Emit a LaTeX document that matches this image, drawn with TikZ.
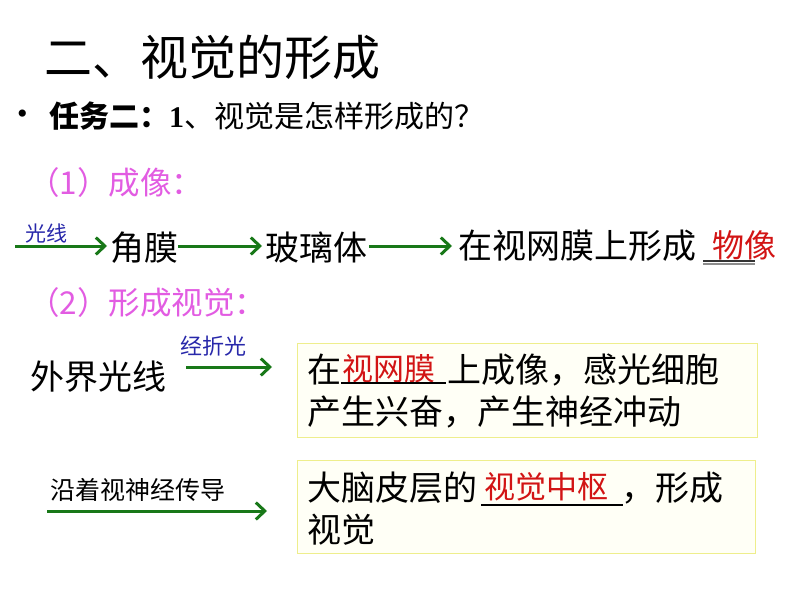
\documentclass[tikz,border=0pt]{standalone}
\usepackage{fontspec}
\setmainfont{Noto Sans CJK SC}
\newfontfamily\tnr{Liberation Serif}
\usetikzlibrary{arrows.meta}
\definecolor{arrowgreen}{RGB}{24,120,24}
\definecolor{labelblue}{RGB}{40,40,170}
\definecolor{pinkhead}{RGB}{226,92,226}
\definecolor{answerred}{RGB}{210,20,20}
\definecolor{boxline}{RGB}{238,238,140}
\definecolor{boxfill}{RGB}{255,255,246}
\begin{document}
\begin{tikzpicture}[x=1pt,y=-1pt,
  every node/.style={inner sep=0pt, anchor=west},
  arr/.style={draw=arrowgreen, line width=3pt, -{Straight Barb[length=9pt,width=17pt]}},
  lbl/.style={text=labelblue, font=\fontsize{21}{24}\selectfont},
  big/.style={font=\fontsize{34}{40}\selectfont},
  ans/.style={text=answerred, font=\fontsize{31}{36}\selectfont},
  head/.style={text=pinkhead, font=\fontsize{31.5}{36}\selectfont},
  frame/.style={draw=boxline, fill=boxfill, line width=1.2pt, anchor=north west, minimum width=#1, inner sep=0pt},
  uline/.style={draw=black, line width=1.6pt}]
\useasboundingbox (0,0) rectangle (794,596);

% title
\node[font=\fontsize{48}{52}\selectfont] (title) at (44,57) {二、视觉的形成};
% bullet line
\node[font=\fontsize{30}{30}\selectfont\tnr] (bul) at (17,117) {•};
\node[font=\fontsize{30}{36}\selectfont] (task) at (49,116) {\textbf{任务二：}{\tnr\bfseries 1}、视觉是怎样形成的？};

% (1)
\node[head] (h1) at (28,183) {（1）成像：};
\node[lbl] (gx) at (25,233) {光线};
\coordinate (s1) at (15,246);
\node[big] (jm) at (110,248) {角膜};
\node[big] (blt) at (265,248) {玻璃体};
\node[big] (zsw) at (458,246) {在视网膜上形成};
\node[ans, font=\fontsize{32}{36}\selectfont] (wx) at (712,245) {物像};
\draw[arr, shorten >=3pt] (s1) -- (s1 -| jm.west);
\draw[arr, shorten >=3pt] (jm.east |- s1) -- (blt.west |- s1);
\draw[arr, shorten >=6pt, shorten <=2pt] (blt.east |- s1) -- (zsw.west |- s1);
\draw[draw=black!80, line width=1.4pt] (703,261) -- (755,261);
\draw[draw=black!45, line width=1.4pt] (703,264) -- (755,264);

% (2)
\node[head] (h2) at (28,303) {（2）形成视觉：};
\node[big] (wjgx) at (30,377) {外界光线};
\node[lbl, font=\fontsize{22}{26}\selectfont] (zzg) at (180,346) {经折光};
\coordinate (s2) at (186,367);
\coordinate (e2) at (272,367);
\draw[arr] (s2) -- (e2);

\node[frame=460pt, minimum height=94pt] (box1) at (297,343) {};
\node[big] (b1a) at (307,370) {在};
\node[ans] (b1r) at (342,369) {视网膜};
\node[big] (b1b) at (447,370) {上成像，感光细胞};
\node[big] (b1c) at (307,412) {产生兴奋，产生神经冲动};
\draw[uline] (341,383) -- (446,383);

% (3)
\node[font=\fontsize{25}{30}\selectfont] (yz) at (50,490) {沿着视神经传导};
\coordinate (s3) at (47,511);
\coordinate (e3) at (267,511);
\draw[arr] (s3) -- (e3);

\node[frame=458pt, minimum height=93pt] (box2) at (297,460) {};
\node[big] (b2a) at (307,488) {大脑皮层的};
\node[ans] (b2r) at (484,487) {视觉中枢};
\node[big] (b2b) at (621,488) {，形成};
\node[big] (b2c) at (307,530) {视觉};
\draw[uline] (481,505) -- (623,505);
\end{tikzpicture}
\end{document}
